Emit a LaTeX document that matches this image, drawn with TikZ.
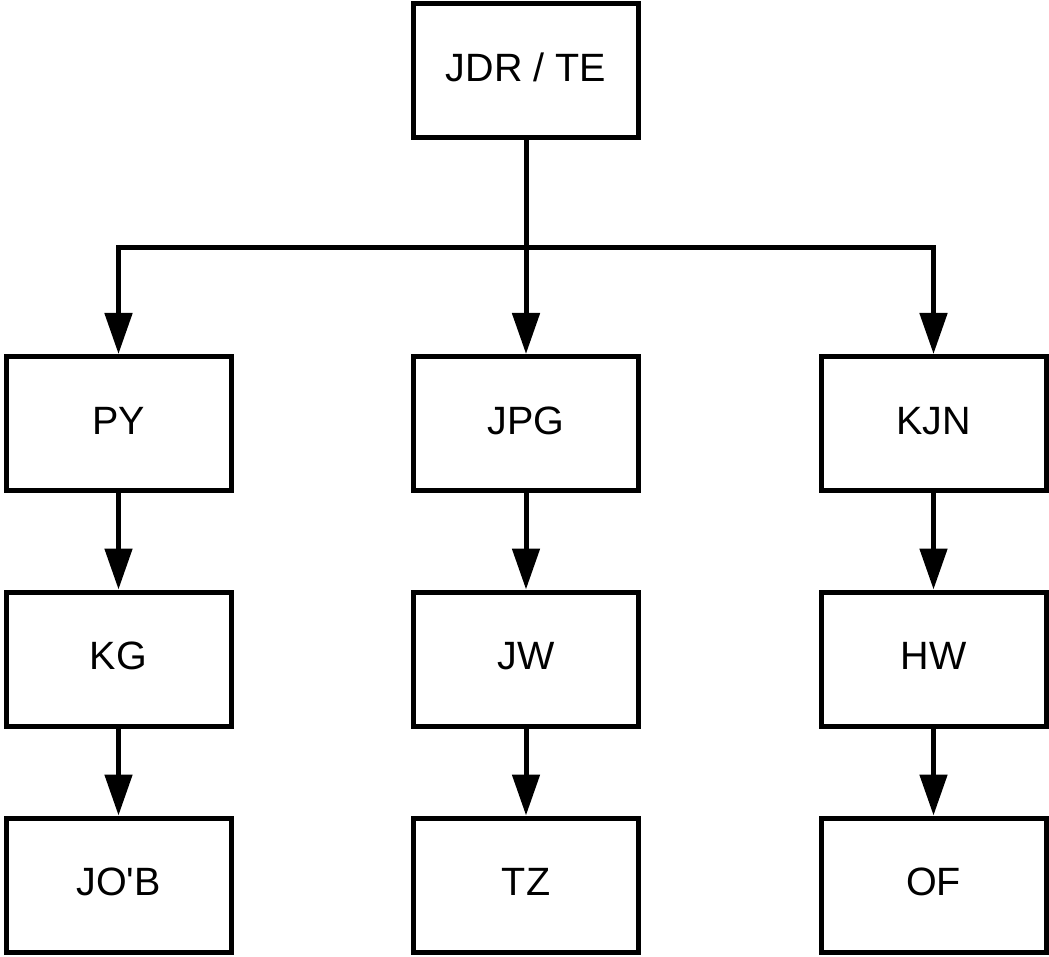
\documentclass[tikz,border=0pt]{standalone}
\usepackage{fontspec}
\setmainfont{Liberation Sans}[Ligatures=TeXOff]
\usetikzlibrary{arrows.meta}
\tikzset{
  box/.style={draw, line width=5pt, rectangle, minimum width=225pt,
    minimum height=134pt, inner sep=0pt, fill=white,
    text height=28pt, text depth=6.5pt,
    font=\fontsize{39.5}{46}\selectfont},
  link/.style={line width=5pt, -{Triangle[length=41pt,width=27pt]}}
}
\begin{document}
\begin{tikzpicture}[x=1pt,y=-1pt]
  \useasboundingbox (0,0) rectangle (1049,957);
  % boxes
  \node[box] (top) at (526,70.5) {JDR / TE};
  \node[box] (py)  at (118.5,423.5) {PY};
  \node[box] (jpg) at (526,423.5) {JPG};
  \node[box] (kjn) at (933.5,423.5) {KJN};
  \node[box] (kg)  at (118.5,659) {KG};
  \node[box] (jw)  at (526,659) {JW};
  \node[box] (hw)  at (933.5,659) {HW};
  \node[box] (job) at (118.5,885) {JO'B};
  \node[box] (tz)  at (526,885) {TZ};
  \node[box] (of)  at (933.5,885) {OF};
  % branching point of the top connectors
  \coordinate (split) at (526,248);
  % connectors
  \draw[link] (top.south) -- (split) -| (py.north);
  \draw[link] (split) -| (kjn.north);
  \draw[link] (top.south) -- (jpg.north);
  \draw[link] (py.south) -- (kg.north);
  \draw[link] (kg.south) -- (job.north);
  \draw[link] (jpg.south) -- (jw.north);
  \draw[link] (jw.south) -- (tz.north);
  \draw[link] (kjn.south) -- (hw.north);
  \draw[link] (hw.south) -- (of.north);
\end{tikzpicture}
\end{document}
